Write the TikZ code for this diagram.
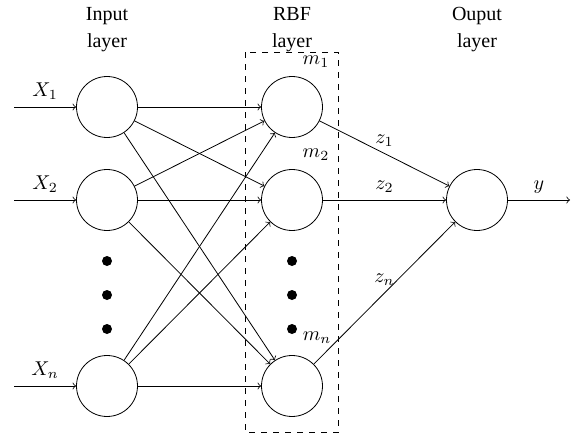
\documentclass[tikz,border=0pt]{standalone}
\usepackage{fontspec}
\setmainfont{Liberation Serif}
\begin{document}
\begin{tikzpicture}[x=0.5pt,y=-0.5pt,
  neuron/.style={circle,draw,minimum size=30.5pt,inner sep=0pt},
  bigdot/.style={circle,fill,minimum size=5pt,inner sep=0pt},
  conn/.style={->},
  hdr/.style={align=center,inner sep=0pt}]
\useasboundingbox (0,0) rectangle (580,439);
% headers
\node[hdr] (h1) at (107,30) {Input\\[1.5pt]layer};
\node[hdr] (h2) at (292,30) {RBF\\[1.5pt]layer};
\node[hdr] (h3) at (477,30) {Ouput\\[1.5pt]layer};
% input layer
\node[neuron] (i1) at (107,107) {};
\node[neuron] (i2) at (107,200) {};
\node[neuron] (in) at (107,386) {};
\node[bigdot] (d1) at (107,261) {};
\node[bigdot] (d2) at (107,295) {};
\node[bigdot] (d3) at (107,329) {};
% RBF layer
\node[neuron] (r1) at (292,107) {};
\node[neuron] (r2) at (292,200) {};
\node[neuron] (rn) at (292,386) {};
\node[bigdot] (e1) at (292,261) {};
\node[bigdot] (e2) at (292,295) {};
\node[bigdot] (e3) at (292,329) {};
\draw[dashed] (245,52) rectangle (338.5,432);
\node (m1) at (316,62) {$m_1$};
\node (m2) at (316,155) {$m_2$};
\node (mn) at (317,338) {$m_n$};
% output
\node[neuron] (o) at (477,200) {};
% inputs
\coordinate (s1) at (14,107);
\coordinate (s2) at (14,200);
\coordinate (sn) at (14,386);
\coordinate (t) at (570,200);
\draw[conn] (s1) -- node[above] {$X_1$} (i1);
\draw[conn] (s2) -- node[above] {$X_2$} (i2);
\draw[conn] (sn) -- node[above] {$X_n$} (in);
% input to RBF
\foreach \a in {i1,i2,in}{
  \foreach \b in {r1,r2,rn}{
    \draw[conn] (\a) -- (\b);
  }
}
% RBF to output
\draw[conn] (r1) -- node[above] {$z_1$} (o);
\draw[conn] (r2) -- node[above] {$z_2$} (o);
\draw[conn] (rn) -- node[above] {$z_n$} (o);
\draw[conn] (o) -- node[above] {$y$} (t);
\end{tikzpicture}
\end{document}
